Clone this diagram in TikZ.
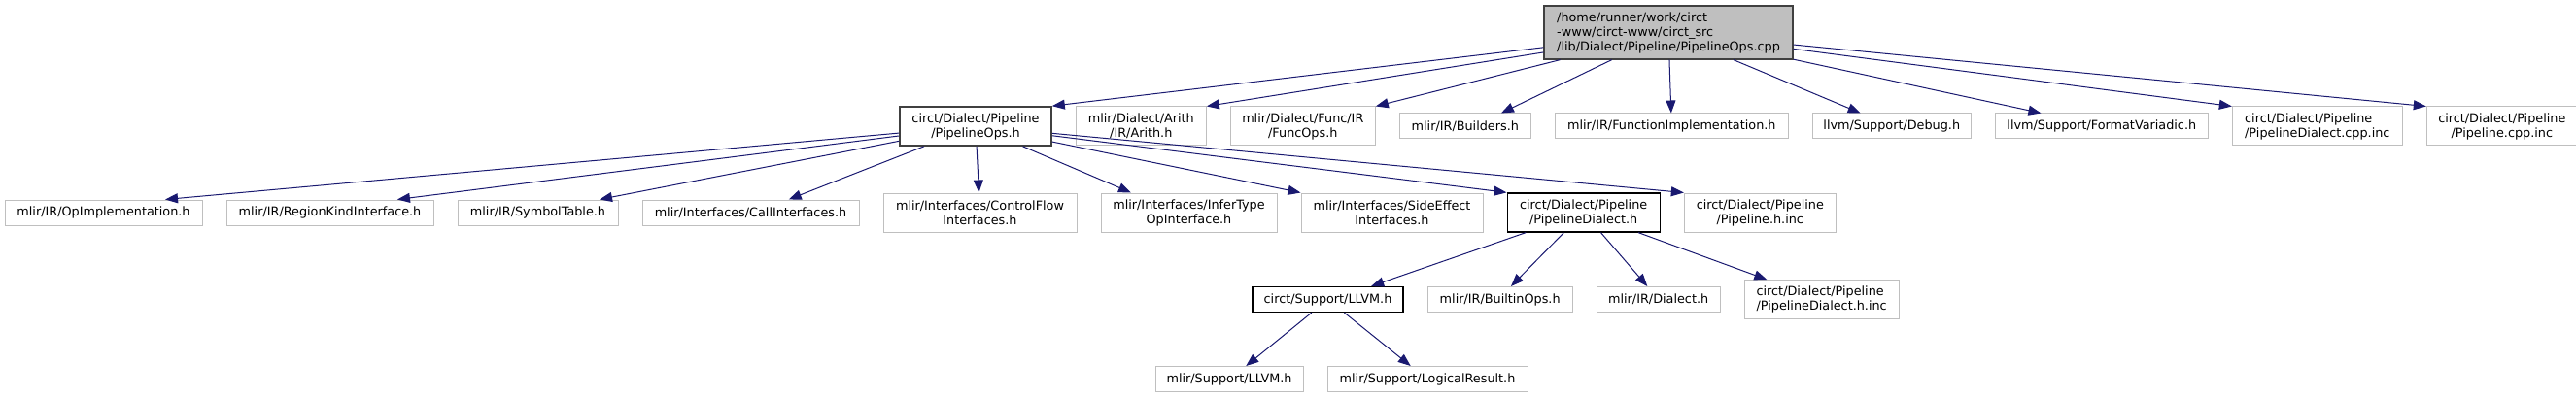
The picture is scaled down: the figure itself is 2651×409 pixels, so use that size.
\documentclass[tikz,border=0pt]{standalone}
\usepackage{fontspec}
\setmainfont{DejaVu Sans}
\usepackage{tikz}
\usetikzlibrary{positioning,arrows.meta}
\definecolor{midnight}{HTML}{191970}
\definecolor{greyline}{HTML}{BFBFBF}
\definecolor{rootfill}{HTML}{BFBFBF}
\definecolor{darkline}{HTML}{404040}

\begin{document}
\begin{tikzpicture}[x=1pt, y=-1pt,
  font=\fontsize{12.8}{15}\selectfont, node distance=24pt,
  file/.style={draw=greyline, line width=1pt, fill=white, align=center, inner sep=1pt,
               minimum height=26pt},
  twoline/.style={minimum height=40pt},
  linked/.style={draw=black, line width=1.3pt},
  include/.style={-{Triangle[length=13pt, width=10pt]}, line width=1pt, midnight}
]
  \useasboundingbox (0,0) rectangle (2651,409);
  \node[file, linked, draw=darkline, fill=rootfill, align=left, minimum width=256pt, minimum height=55pt] (cpp) at (1717,33.5) {/home/runner/work/circt\\-www/circt-www/circt\_src\\/lib/Dialect/Pipeline/PipelineOps.cpp};

  \node[file, linked, draw=darkline, line width=1.6pt, twoline, minimum width=156pt] (ops) at (1004,130) {circt/Dialect/Pipeline\\/PipelineOps.h};
  \node[file, twoline, minimum width=134pt, right=of ops] (arith) {mlir/Dialect/Arith\\/IR/Arith.h};
  \node[file, twoline, minimum width=149pt, right=of arith] (funcops) {mlir/Dialect/Func/IR\\/FuncOps.h};
  \node[file, minimum width=135pt, right=of funcops] (builders) {mlir/IR/Builders.h};
  \node[file, minimum width=240pt, right=of builders] (funcimpl) {mlir/IR/FunctionImplementation.h};
  \node[file, minimum width=163pt, right=of funcimpl] (debug) {llvm/Support/Debug.h};
  \node[file, minimum width=219pt, right=of debug] (fmtvar) {llvm/Support/FormatVariadic.h};
  \node[file, twoline, align=left, minimum width=175pt, right=of fmtvar] (dialcpp) {circt/Dialect/Pipeline\\/PipelineDialect.cpp.inc};
  \node[file, twoline, minimum width=155pt, right=of dialcpp] (pipecpp) {circt/Dialect/Pipeline\\/Pipeline.cpp.inc};

  \node[file, minimum width=203pt] (opimpl) at (106.5,219) {mlir/IR/OpImplementation.h};
  \node[file, minimum width=213pt, right=of opimpl] (regionkind) {mlir/IR/RegionKindInterface.h};
  \node[file, minimum width=165pt, right=of regionkind] (symtab) {mlir/IR/SymbolTable.h};
  \node[file, minimum width=223pt, right=of symtab] (callif) {mlir/Interfaces/CallInterfaces.h};
  \node[file, twoline, minimum width=199pt, right=of callif] (ctrlflow) {mlir/Interfaces/ControlFlow\\Interfaces.h};
  \node[file, twoline, minimum width=181pt, right=of ctrlflow] (infertype) {mlir/Interfaces/InferType\\OpInterface.h};
  \node[file, twoline, minimum width=187pt, right=of infertype] (sideeff) {mlir/Interfaces/SideEffect\\Interfaces.h};
  \node[file, linked, twoline, minimum width=157pt, right=of sideeff] (dialh) {circt/Dialect/Pipeline\\/PipelineDialect.h};
  \node[file, twoline, minimum width=156pt, right=of dialh] (pipehinc) {circt/Dialect/Pipeline\\/Pipeline.h.inc};

  \node[file, linked, minimum width=155pt] (llvmh) at (1366.5,308.5) {circt/Support/LLVM.h};
  \node[file, minimum width=149pt, right=of llvmh] (builtin) {mlir/IR/BuiltinOps.h};
  \node[file, minimum width=127pt, right=of builtin] (dialect) {mlir/IR/Dialect.h};
  \node[file, twoline, align=left, minimum width=159pt, right=of dialect] (dialhinc) {circt/Dialect/Pipeline\\/PipelineDialect.h.inc};

  \node[file, minimum width=152pt] (mlirllvm) at (1265,390.5) {mlir/Support/LLVM.h};
  \node[file, minimum width=206pt, right=of mlirllvm] (logres) {mlir/Support/LogicalResult.h};

  \draw[include] (cpp) -- (ops.north east);
  \draw[include] (cpp) -- (arith.north east);
  \draw[include] (cpp) -- (funcops.north east);
  \draw[include] (cpp) -- (builders.20);
  \draw[include] (cpp) -- (funcimpl);
  \draw[include] (cpp) -- (debug);
  \draw[include] (cpp) -- (fmtvar);
  \draw[include] (cpp) -- (dialcpp.north west);
  \draw[include] (cpp) -- (pipecpp.north west);

  \draw[include] (ops) -- (opimpl.12);
  \draw[include] (ops) -- (regionkind.11);
  \draw[include] (ops) -- (symtab.12);
  \draw[include] (ops) -- (callif.19);
  \draw[include] (ops) -- (ctrlflow);
  \draw[include] (ops) -- (infertype.161);
  \draw[include] (ops) -- (sideeff.north west);
  \draw[include] (ops) -- (dialh.north west);
  \draw[include] (ops) -- (pipehinc.north west);

  \draw[include] (dialh) -- (llvmh.17);
  \draw[include] (dialh) -- (builtin.50);
  \draw[include] (dialh) -- (dialect.130);
  \draw[include] (dialh) -- (dialhinc.160);

  \draw[include] (llvmh) -- (mlirllvm.38);
  \draw[include] (llvmh) -- (logres.142);
\end{tikzpicture}
\end{document}
